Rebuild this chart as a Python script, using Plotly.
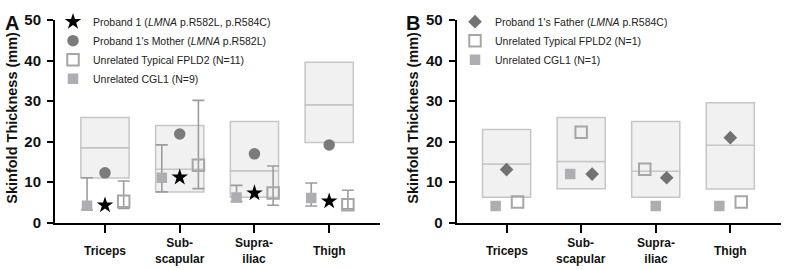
import plotly.graph_objects as go

# ---------------- data ----------------
categories = ["Triceps", "Sub-<br>scapular", "Supra-<br>iliac", "Thigh"]
yticks = [0, 10, 20, 30, 40, 50]

# Panel A
a_box_low = [11.0, 7.6, 6.3, 19.8]
a_box_med = [18.5, 13.2, 12.8, 29.1]
a_box_high = [26.0, 24.0, 25.0, 39.6]
a_proband1 = [4.3, 11.2, 7.3, 5.3]
a_mother = [12.3, 21.9, 17.0, 19.2]
a_fpld2 = [5.3, 14.2, 7.3, 4.4]
a_fpld2_up = [5.0, 16.0, 6.7, 3.6]
a_fpld2_down = [1.8, 5.8, 3.0, 1.0]
a_cgl1 = [4.2, 11.1, 6.2, 6.1]
a_cgl1_up = [6.9, 8.1, 3.0, 3.7]
a_cgl1_down = [1.0, 3.5, 1.0, 2.0]

# Panel B
b_box_low = [6.3, 8.4, 6.3, 8.3]
b_box_med = [14.5, 15.1, 12.7, 19.1]
b_box_high = [23.0, 26.0, 25.0, 29.6]
b_father = [13.1, 12.0, 11.1, 21.0]
b_fpld2 = [5.1, 22.3, 13.2, 5.1]
b_cgl1 = [4.1, 12.0, 4.1, 4.1]

# ---------------- styling ----------------
FONT = "Liberation Sans, Arial, sans-serif"
W, H = 785, 270
BOX_FILL = "#f1f1f1"
BOX_LINE = "#c6c6c6"
CGL_COL = "#aeaeb2"
FPLD_COL = "#a6a6a6"
ERR_COL = "#9c9c9c"
MOTHER_COL = "#7b7b7b"
FATHER_COL = "#727272"

xpos = list(range(len(categories)))
a_off_cgl, a_off_fpld = -0.24, 0.25
b_off_cgl = [-0.147, -0.147, 0.0, -0.147]
b_off_father = [0.0, 0.147, 0.147, 0.0]
b_off_fpld = [0.147, 0.0, -0.147, 0.147]


def px_x(p):
    return p / W


def px_y(p):
    return 1 - p / H


fig = go.Figure()


def add_boxes(low, med, high, xa, ya):
    fig.add_trace(go.Bar(x=xpos, y=[m - l for m, l in zip(med, low)], base=low,
                         width=0.645, xaxis=xa, yaxis=ya, showlegend=False,
                         marker=dict(color=BOX_FILL, line=dict(color=BOX_LINE, width=1.5)),
                         hoverinfo="skip"))
    fig.add_trace(go.Bar(x=xpos, y=[h - m for h, m in zip(high, med)], base=med,
                         width=0.645, xaxis=xa, yaxis=ya, showlegend=False,
                         marker=dict(color=BOX_FILL, line=dict(color=BOX_LINE, width=1.5)),
                         hoverinfo="skip"))


# ---- Panel A ----
add_boxes(a_box_low, a_box_med, a_box_high, "x", "y")
fig.add_trace(go.Scatter(
    x=[i for i in xpos], y=a_proband1, mode="markers", xaxis="x", yaxis="y",
    name="Proband 1 (<i>LMNA</i> p.R582L, p.R584C)", legend="legend",
    marker=dict(symbol="star", size=12.5, color="black")))
fig.add_trace(go.Scatter(
    x=[i for i in xpos], y=a_mother, mode="markers", xaxis="x", yaxis="y",
    name="Proband 1's Mother (<i>LMNA</i> p.R582L)", legend="legend",
    marker=dict(symbol="circle", size=11.5, color=MOTHER_COL)))
fig.add_trace(go.Scatter(
    x=[i + a_off_fpld for i in xpos], y=a_fpld2, mode="markers", xaxis="x", yaxis="y",
    name="Unrelated Typical FPLD2 (N=11)", legend="legend",
    error_y=dict(type="data", symmetric=False, array=a_fpld2_up, arrayminus=a_fpld2_down,
                 color=ERR_COL, thickness=1.6, width=6),
    marker=dict(symbol="square-open", size=11.5, color=FPLD_COL, line=dict(width=2, color=FPLD_COL))))
fig.add_trace(go.Scatter(
    x=[i + a_off_cgl for i in xpos], y=a_cgl1, mode="markers", xaxis="x", yaxis="y",
    name="Unrelated CGL1 (N=9)", legend="legend",
    error_y=dict(type="data", symmetric=False, array=a_cgl1_up, arrayminus=a_cgl1_down,
                 color=ERR_COL, thickness=1.6, width=6),
    marker=dict(symbol="square", size=10.5, color=CGL_COL)))

# ---- Panel B ----
add_boxes(b_box_low, b_box_med, b_box_high, "x2", "y2")
fig.add_trace(go.Scatter(
    x=[i + o for i, o in zip(xpos, b_off_father)], y=b_father, mode="markers", xaxis="x2", yaxis="y2",
    name="Proband 1's Father (<i>LMNA</i> p.R584C)", legend="legend2",
    marker=dict(symbol="diamond", size=10.5, color=FATHER_COL)))
fig.add_trace(go.Scatter(
    x=[i + o for i, o in zip(xpos, b_off_fpld)], y=b_fpld2, mode="markers", xaxis="x2", yaxis="y2",
    name="Unrelated Typical FPLD2 (N=1)", legend="legend2",
    marker=dict(symbol="square-open", size=11.5, color=FPLD_COL, line=dict(width=2, color=FPLD_COL))))
fig.add_trace(go.Scatter(
    x=[i + o for i, o in zip(xpos, b_off_cgl)], y=b_cgl1, mode="markers", xaxis="x2", yaxis="y2",
    name="Unrelated CGL1 (N=1)", legend="legend2",
    marker=dict(symbol="square", size=10.5, color=CGL_COL)))

xr = [-0.669, 3.68]
common_x = dict(range=xr, showline=True, linecolor="black", linewidth=2,
                ticks="outside", ticklen=8, tickwidth=2, tickcolor="black",
                tickvals=xpos, showticklabels=False, showgrid=False, zeroline=False,
                fixedrange=True)
common_y = dict(range=[0, 50], showline=True, linecolor="black", linewidth=2,
                ticks="outside", ticklen=6, tickwidth=2, tickcolor="black",
                tickvals=yticks, showgrid=False, zeroline=False,
                tickfont=dict(family=FONT, size=15, color="#111", weight="bold"),
                ticklabelstandoff=3)

ydom = [px_y(228), px_y(12)]
legend_common = dict(font=dict(family=FONT, size=10.5, color="#222"),
                     bgcolor="rgba(0,0,0,0)", xanchor="left", yanchor="top",
                     itemwidth=30, tracegroupgap=0, traceorder="normal")

fig.update_layout(
    width=W, height=H, margin=dict(l=0, r=0, t=0, b=0),
    paper_bgcolor="white", plot_bgcolor="white", barmode="overlay",
    font=dict(family=FONT),
    xaxis=dict(domain=[px_x(55), px_x(380)], anchor="y", **common_x),
    yaxis=dict(domain=ydom, anchor="x", **common_y),
    xaxis2=dict(domain=[px_x(456.7), px_x(781)], anchor="y2", **common_x),
    yaxis2=dict(domain=ydom, anchor="x2", **common_y),
    legend=dict(x=px_x(53), y=px_y(-2), **legend_common),
    legend2=dict(x=px_x(455), y=px_y(-2), **legend_common),
    showlegend=True,
)

annots = []
for ax in ("x", "x2"):
    for i, c in enumerate(categories):
        annots.append(dict(x=i, y=px_y(258), xref=ax, yref="paper", text=c, showarrow=False,
                           xanchor="center", yanchor="middle",
                           font=dict(family=FONT, size=12, color="#111", weight="bold")))
for xc in (12, 413):
    annots.append(dict(x=px_x(xc), y=px_y(116), xref="paper", yref="paper",
                       text="Skinfold Thickness (mm)", textangle=-90, showarrow=False,
                       xanchor="center", yanchor="middle",
                       font=dict(family=FONT, size=14.5, color="#111", weight="bold")))
for lab, xc in (("A", 12), ("B", 413)):
    annots.append(dict(x=px_x(xc), y=px_y(15), xref="paper", yref="paper", text=lab,
                       showarrow=False, xanchor="center", yanchor="middle",
                       font=dict(family=FONT, size=20, color="#111", weight="bold")))
fig.update_layout(annotations=annots)

fig.write_html("out.html")
